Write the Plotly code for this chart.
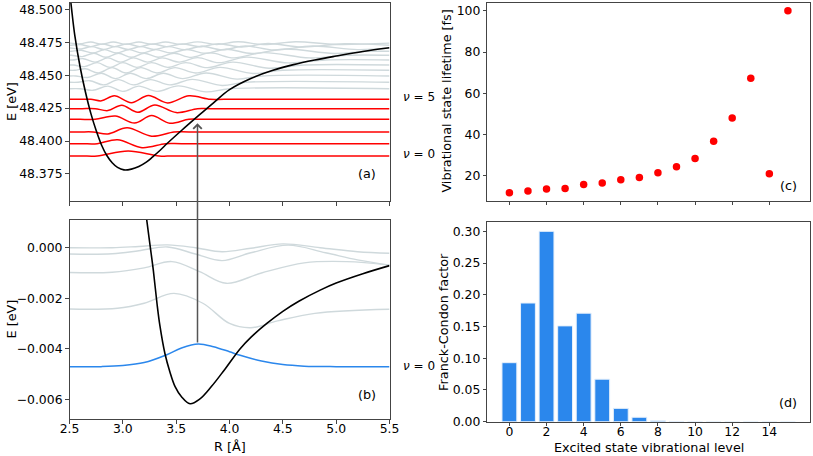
import plotly.graph_objects as go

W, H = 813, 456

# ---------------- panel (a): excited state -----------------
pot_a_R = [2.50, 2.52, 2.55, 2.60, 2.65, 2.70, 2.75, 2.80, 2.85, 2.90, 2.95, 3.01, 3.08, 3.15, 3.22,
           3.28, 3.35, 3.42, 3.55, 3.72, 3.85, 4.00, 4.20, 4.40, 4.60, 4.80, 5.00, 5.25, 5.50]
pot_a_E = [48.515, 48.500, 48.480, 48.456, 48.437, 48.421, 48.408, 48.397, 48.389, 48.3835, 48.3800,
           48.3781, 48.3787, 48.3807, 48.3840, 48.3880, 48.3930, 48.3985, 48.4080, 48.4200, 48.4290,
           48.4390, 48.4475, 48.4535, 48.4580, 48.4615, 48.4645, 48.4680, 48.4708]

red_levels = [48.3887, 48.3980, 48.4069, 48.4165, 48.4246, 48.4317]
red_R = [
    [2.5, 2.62, 2.76, 3.05, 3.34, 3.48, 5.5],
    [2.5, 2.62, 2.76, 2.95, 3.18, 3.40, 3.55, 5.5],
    [2.5, 2.60, 2.72, 2.86, 3.04, 3.27, 3.48, 3.62, 5.5],
    [2.5, 2.60, 2.74, 2.93, 3.11, 3.27, 3.44, 3.62, 3.75, 5.5],
    [2.5, 2.62, 2.74, 2.86, 2.99, 3.14, 3.30, 3.50, 3.70, 3.82, 5.5],
    [2.5, 2.60, 2.70, 2.80, 2.92, 3.08, 3.24, 3.42, 3.62, 3.82, 3.95, 5.5],
]
red_dE_meV = [
    [0, 0, 0, 3.8, 0, 0, 0],
    [0, 0, 0, 3.0, -3.0, 0, 0, 0],
    [0, 0, 0, -1.5, 3.2, -3.2, 0, 0, 0],
    [0, 0, 0, 2.5, -2.8, 2.8, -3.0, 0, 0, 0],
    [0, 0, 0, -1.5, 2.6, -2.8, 2.8, -3.0, 0, 0, 0],
    [0, 0, 0, -1.2, 2.6, -2.6, 2.8, -2.8, 2.6, 0, 0, 0],
]

grey_levels = [48.4397, 48.4446, 48.4494, 48.4537, 48.4577, 48.4615, 48.4651, 48.4681, 48.4706, 48.4727, 48.4743]
grey_R = [
    [2.5, 2.60, 2.72, 2.86, 3.00, 3.15, 3.32, 3.52, 3.78, 4.00, 5.5],
    [2.5, 2.58, 2.69, 2.82, 2.96, 3.10, 3.26, 3.44, 3.65, 3.93, 4.15, 5.5],
    [2.5, 2.56, 2.67, 2.80, 2.93, 3.07, 3.22, 3.38, 3.56, 3.78, 4.07, 4.30, 5.5],
    [2.5, 2.55, 2.65, 2.77, 2.90, 3.03, 3.17, 3.32, 3.49, 3.68, 3.91, 4.22, 4.50, 5.5],
    [2.5, 2.54, 2.64, 2.76, 2.88, 3.00, 3.13, 3.27, 3.42, 3.59, 3.79, 4.03, 4.37, 4.70, 5.5],
    [2.5, 2.53, 2.63, 2.74, 2.86, 2.98, 3.10, 3.23, 3.37, 3.53, 3.70, 3.90, 4.16, 4.55, 4.90, 5.5],
    [2.5, 2.52, 2.62, 2.73, 2.84, 2.96, 3.08, 3.20, 3.33, 3.48, 3.64, 3.82, 4.04, 4.32, 4.75, 5.10, 5.5],
    [2.5, 2.52, 2.61, 2.72, 2.83, 2.94, 3.06, 3.18, 3.31, 3.45, 3.60, 3.77, 3.97, 4.21, 4.52, 4.98, 5.30, 5.5],
    [2.5, 2.51, 2.61, 2.71, 2.82, 2.93, 3.05, 3.17, 3.29, 3.43, 3.58, 3.74, 3.93, 4.15, 4.42, 4.78, 5.20, 5.5],
    [2.5, 2.51, 2.60, 2.70, 2.81, 2.92, 3.04, 3.16, 3.28, 3.41, 3.56, 3.72, 3.90, 4.11, 4.36, 4.68, 5.08, 5.5],
    [2.5, 2.51, 2.60, 2.70, 2.80, 2.91, 3.03, 3.15, 3.27, 3.40, 3.54, 3.70, 3.88, 4.08, 4.32, 4.62, 5.00, 5.5],
]
grey_dE_meV = [
    [0, 0, -1.2, 2.0, -2.0, 2.0, -2.0, 2.2, -2.4, 0, 0],
    [0, 0, 1.2, -2.0, 2.0, -2.0, 2.0, -2.0, 2.2, -2.4, 0, 0],
    [0, 0, -1.2, 2.0, -2.0, 2.0, -2.0, 2.0, -2.0, 2.2, -2.4, 0, 0],
    [0, 0, 1.2, -2.0, 2.0, -2.0, 2.0, -2.0, 2.0, -2.0, 2.2, -2.4, 0, 0],
    [0, 0, -1.2, 1.8, -1.8, 1.8, -1.8, 1.8, -1.8, 1.8, -2.0, 2.2, -2.4, 0, 0],
    [0, 0, 1.0, -1.6, 1.6, -1.6, 1.6, -1.6, 1.6, -1.6, 1.8, -2.0, 2.2, -2.2, 0, 0],
    [0, 0, -1.0, 1.5, -1.5, 1.5, -1.5, 1.5, -1.5, 1.5, -1.6, 1.8, -2.0, 2.0, -2.0, 0, 0],
    [0, 0, 0.8, -1.3, 1.3, -1.3, 1.3, -1.3, 1.3, -1.3, 1.4, -1.5, 1.6, -1.7, 1.8, -1.6, 0, 0],
    [0, 0, -0.7, 1.1, -1.1, 1.1, -1.1, 1.1, -1.1, 1.1, -1.2, 1.3, -1.4, 1.5, -1.5, 1.5, -1.2, 0],
    [0, 0, 0.6, -1.0, 1.0, -1.0, 1.0, -1.0, 1.0, -1.0, 1.0, -1.1, 1.2, -1.3, 1.3, -1.3, 1.2, 0],
    [0, 0, -0.5, 0.9, -0.9, 0.9, -0.9, 0.9, -0.9, 0.9, -0.9, 1.0, -1.0, 1.1, -1.1, 1.1, -1.0, 0],
]

arrow_R = 3.7
arrow_top_E = 48.4135
arrow_bottom_E = -0.00381

# ---------------- panel (b): ground state -----------------
pot_b_R = [3.205, 3.224, 3.255, 3.286, 3.32, 3.348, 3.395, 3.44, 3.49, 3.55, 3.63, 3.72, 3.83, 3.95,
           4.10, 4.20, 4.35, 4.50, 4.65, 4.85, 5.00, 5.25, 5.50]
pot_b_E = [0.0018, 0.0011, 0.0001, -0.0009, -0.0022, -0.0031, -0.0042, -0.0049, -0.0055, -0.0059,
           -0.00618, -0.0060, -0.0055, -0.00485, -0.0040, -0.00355, -0.0030, -0.00252, -0.00212,
           -0.00168, -0.0014, -0.00103, -0.00071]

blue_R = [2.5, 2.8, 3.0, 3.2, 3.4, 3.55, 3.707, 3.85, 4.0, 4.1, 4.3, 4.5, 4.7, 5.0, 5.5]
blue_E = [-0.00471, -0.00471, -0.00467, -0.00455, -0.00426, -0.00397, -0.00381, -0.00392, -0.00412,
          -0.00426, -0.00449, -0.00463, -0.00469, -0.00471, -0.00471]

greyb_R = [
    [2.5, 2.9, 3.15, 3.42, 3.68, 3.93, 4.2, 4.5, 4.85, 5.2, 5.5],
    [2.5, 2.9, 3.15, 3.42, 3.68, 3.93, 4.2, 4.55, 4.9, 5.2, 5.5],
    [2.5, 2.9, 3.2, 3.46, 3.72, 3.97, 4.3, 4.7, 5.1, 5.5],
    [2.5, 2.95, 3.2, 3.48, 3.75, 4.0, 4.2, 4.45, 4.8, 5.5],
]
greyb_E = [
    [0.0, 0.0, 0.00005, 0.00011, 0.0, -0.00016, -0.00002, 0.00015, 0.0, -0.00016, -0.00022],
    [-0.00025, -0.00024, -0.00012, 0.00003, -0.00025, -0.00051, -0.0002, 0.0001, -0.0002, -0.00048, -0.00069],
    [-0.00098, -0.00097, -0.0008, -0.00055, -0.00095, -0.00141, -0.0010, -0.0006, -0.00055, -0.00069],
    [-0.00243, -0.0024, -0.0022, -0.00181, -0.0022, -0.0030, -0.00317, -0.0029, -0.0026, -0.00244],
]

# ---------------- panel (c) and (d) -----------------
levels = list(range(16))
lifetime_fs = [11.9, 12.7, 13.7, 13.9, 15.8, 16.6, 18.2, 19.2, 21.5, 24.5, 28.4, 36.8, 48.1, 67.3, 21.1, 100.0]
fc_factor = [0.093, 0.187, 0.300, 0.151, 0.171, 0.067, 0.021, 0.007, 0.0016, 0.0003, 0.0001, 0.0, 0.0, 0.0, 0.0, 0.0]

xa_ticks = [2.5, 3.0, 3.5, 4.0, 4.5, 5.0, 5.5]
ya_ticks = [48.375, 48.400, 48.425, 48.450, 48.475, 48.500]
yb_ticks = [-0.006, -0.004, -0.002, 0.000]
yc_ticks = [20, 40, 60, 80, 100]
yd_ticks = [0.00, 0.05, 0.10, 0.15, 0.20, 0.25, 0.30]
xcd_ticks = [0, 2, 4, 6, 8, 10, 12, 14]

GREY = "#cfd9dc"
RED = "#ff0000"
BLUE = "#2b87ec"
FONT = "DejaVu Sans"
FS = 12.8
TFS = 12.4

fig = go.Figure()


def line(xs, ys, color, width, xa, ya):
    fig.add_trace(go.Scatter(x=xs, y=ys, mode="lines", xaxis=xa, yaxis=ya,
                             line=dict(color=color, width=width, shape="spline", smoothing=1.0),
                             hoverinfo="skip", showlegend=False))


# panel (a)
for lev, rr, dd in zip(grey_levels, grey_R, grey_dE_meV):
    line(rr, [lev + d * 1e-3 for d in dd], GREY, 1.4, "x", "y")
for lev, rr, dd in zip(red_levels, red_R, red_dE_meV):
    line(rr, [lev + d * 1e-3 for d in dd], RED, 1.5, "x", "y")
line(pot_a_R, pot_a_E, "black", 1.6, "x", "y")

# panel (b)
for rr, ee in zip(greyb_R, greyb_E):
    line(rr, ee, GREY, 1.4, "x2", "y2")
line(blue_R, blue_E, BLUE, 1.5, "x2", "y2")
line(pot_b_R, pot_b_E, "black", 1.6, "x2", "y2")

# panel (c)
fig.add_trace(go.Scatter(x=levels, y=lifetime_fs, mode="markers", xaxis="x3", yaxis="y3",
                         marker=dict(color=RED, size=7.5, line=dict(width=0)),
                         showlegend=False, hoverinfo="skip"))
# panel (d)
fig.add_trace(go.Bar(x=levels, y=fc_factor, xaxis="x4", yaxis="y4", width=0.8,
                     marker=dict(color=BLUE, line=dict(color="#e6f0fb", width=1)),
                     showlegend=False, hoverinfo="skip"))

# geometry (pixels from top-left)
ax_a = dict(l=69.5, r=389.5, t=2.7, b=201.0)
ax_b = dict(l=69.5, r=389.5, t=220.0, b=419.0)
ax_c = dict(l=487.3, r=810.0, t=2.7, b=200.5)
ax_d = dict(l=487.3, r=810.0, t=222.0, b=421.7)


def xdom(g):
    return [g["l"] / W, g["r"] / W]


def ydom(g):
    return [1 - g["b"] / H, 1 - g["t"] / H]


common = dict(showline=True, linecolor="#444444", linewidth=1, mirror=True, ticks="outside",
              ticklen=3.5, tickwidth=0.9, tickcolor="#444444", showgrid=False, zeroline=False,
              automargin=False, tickfont=dict(family=FONT, size=TFS, color="black"))
xcommon = dict(common, ticklabelstandoff=-5)

fig.update_layout(
    width=W, height=H, margin=dict(l=0, r=0, t=0, b=0, pad=0, autoexpand=False),
    paper_bgcolor="white", plot_bgcolor="white",
    font=dict(family=FONT, size=FS, color="black"),
    bargap=0.2,
    xaxis=dict(domain=xdom(ax_a), range=[2.5, 5.5], anchor="y", tickvals=xa_ticks, showticklabels=False, **xcommon),
    yaxis=dict(domain=ydom(ax_a), range=[48.3545, 48.5050], anchor="x", tickvals=ya_ticks, tickformat=".3f", **common),
    xaxis2=dict(domain=xdom(ax_b), range=[2.5, 5.5], anchor="y2", tickvals=xa_ticks, tickformat=".1f", **xcommon),
    yaxis2=dict(domain=ydom(ax_b), range=[-0.006784, 0.001097], anchor="x2", tickvals=yb_ticks, tickformat=".3f", **common),
    xaxis3=dict(domain=xdom(ax_c), range=[-1.19, 16.19], anchor="y3", tickvals=xcd_ticks, showticklabels=False, **xcommon),
    yaxis3=dict(domain=ydom(ax_c), range=[8.1, 103.9], anchor="x3", tickvals=yc_ticks, **common),
    xaxis4=dict(domain=xdom(ax_d), range=[-1.19, 16.19], anchor="y4", tickvals=xcd_ticks, **xcommon),
    yaxis4=dict(domain=ydom(ax_d), range=[0, 0.3147], anchor="x4", tickvals=yd_ticks, tickformat=".2f", **common),
)


def txt(text, px, py, angle=0, xanchor="center", size=FS):
    fig.add_annotation(text=text, x=px / W, y=1 - py / H, xref="paper", yref="paper",
                       showarrow=False, textangle=angle, xanchor=xanchor, yanchor="middle",
                       font=dict(family=FONT, size=size, color="black"))


# axis titles
txt("E [eV]", 11, 102, -90)
txt("E [eV]", 11, 319.5, -90)
txt("R [Å]", 229.5, 446.7)
txt("Vibrational state lifetime [fs]", 447, 101.6, -90)
txt("Franck-Condon factor", 444, 321.9, -90)
txt("Excited state vibrational level", 648.6, 447)

# panel labels
txt("(a)", 367, 174)
txt("(b)", 367, 394.5)
txt("(c)", 788, 185)
txt("(d)", 788, 402)

# level labels
txt("<i>ν</i> = 5", 401, 97.3, xanchor="left", size=12)
txt("<i>ν</i> = 0", 401, 154.3, xanchor="left", size=12)
txt("<i>ν</i> = 0", 401, 366.0, xanchor="left", size=12)

# excitation arrow from (b) to (a)
ya0, ya1 = 48.3545, 48.5050
yb0, yb1 = -0.006784, 0.001097
top_py = ax_a["t"] + (ya1 - arrow_top_E) / (ya1 - ya0) * (ax_a["b"] - ax_a["t"])
bot_py = ax_b["t"] + (yb1 - arrow_bottom_E) / (yb1 - yb0) * (ax_b["b"] - ax_b["t"])
fig.add_annotation(x=arrow_R, y=arrow_top_E, xref="x", yref="y", ax=0, ay=bot_py - top_py,
                   axref="pixel", ayref="pixel", text="", showarrow=True, arrowhead=4,
                   arrowsize=1.1, arrowwidth=1.5, arrowcolor="#555555", standoff=0, startstandoff=0)

fig.write_html("out.html", config={"displayModeBar": False},
               post_script="document.body.style.margin='0px';document.body.style.overflow='hidden';")
